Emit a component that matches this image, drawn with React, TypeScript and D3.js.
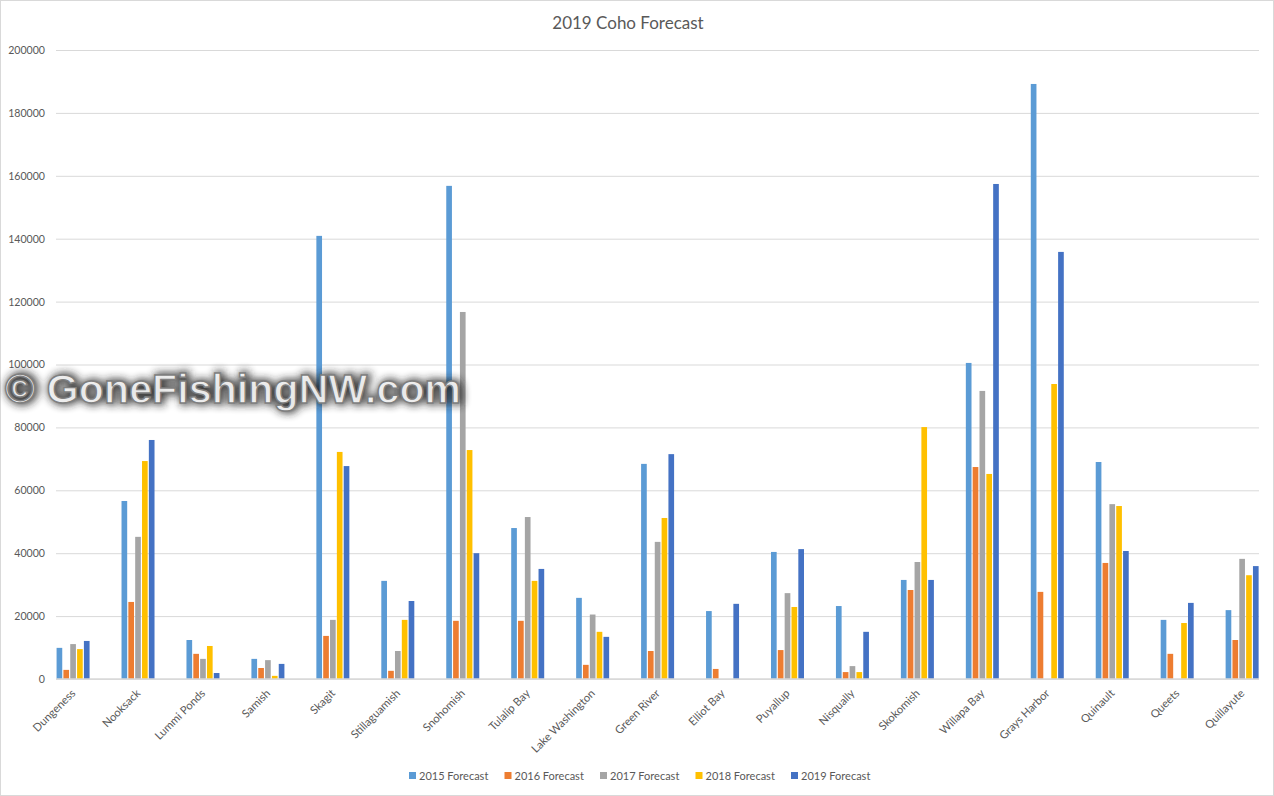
import * as d3 from "d3";
import { useEffect, useRef } from "react";

const rivers = [
  "Dungeness", "Nooksack", "Lummi Ponds", "Samish", "Skagit", "Stillaguamish", "Snohomish",
  "Tulalip Bay", "Lake Washington", "Green River", "Elliot Bay", "Puyallup", "Nisqually",
  "Skokomish", "Willapa Bay", "Grays Harbor", "Quinault", "Queets", "Quillayute",
];

const seriesNames = ["2015 Forecast", "2016 Forecast", "2017 Forecast", "2018 Forecast", "2019 Forecast"];
const seriesColors = ["#5b9bd5", "#ed7d31", "#a5a5a5", "#ffc000", "#4472c4"];

const forecast2015 = [9900, 56600, 12400, 6400, 140900, 31200, 156800, 48000, 25800, 68400, 21600, 40400, 23200, 31500, 100500, 189200, 69000, 18800, 21900];
const forecast2016 = [2900, 24500, 8000, 3500, 13700, 2600, 18500, 18500, 4500, 8900, 3200, 9200, 2200, 28300, 67400, 27700, 36900, 8000, 12400];
const forecast2017 = [11100, 45200, 6400, 6000, 18800, 8900, 116700, 51500, 20500, 43600, 0, 27300, 4100, 37200, 91600, 0, 55600, 0, 38200];
const forecast2018 = [9500, 69300, 10500, 1000, 72200, 18800, 72800, 31200, 15000, 51200, 0, 22900, 2200, 80100, 65200, 93800, 55000, 17800, 33000];
const forecast2019 = [12100, 76000, 1900, 4800, 67700, 24800, 40000, 35000, 13400, 71500, 23900, 41300, 15000, 31500, 157400, 135800, 40700, 24200, 35900];

const allSeries = [forecast2015, forecast2016, forecast2017, forecast2018, forecast2019];
const yTicks = d3.range(0, 200001, 20000);

const font = "Lato, 'Open Sans', sans-serif";
const textColor = "#595959";

const App = () => {
  const svgRef = useRef<SVGSVGElement | null>(null);

  useEffect(() => {
    if (!svgRef.current) return;
    const svg = d3.select(svgRef.current);
    svg.selectAll("*").remove();

    const width = 1274;
    const height = 796;
    const plotLeft = 56;
    const plotRight = 1259;
    const plotTop = 50;
    const plotBottom = 679;

    // the first and last bands hang over the plot edges in the original
    const x0 = d3.scaleBand().domain(rivers).range([40.6, 1274.6]);
    const x1 = d3.scaleBand().domain(seriesNames).range([0, 33]).paddingInner(0.17);
    const y = d3.scaleLinear().domain([0, 200000]).range([plotBottom, plotTop]);

    svg.append("rect")
      .attr("x", 0.5).attr("y", 0.5)
      .attr("width", width - 1).attr("height", height - 1)
      .attr("fill", "#fff").attr("stroke", "#d9d9d9");

    svg.append("text")
      .attr("x", 628).attr("y", 29)
      .attr("text-anchor", "middle")
      .attr("font-family", font).attr("font-size", 17)
      .attr("fill", textColor)
      .text("2019 Coho Forecast");

    // Y-axis and gridlines
    const yAxis = svg.append("g")
      .attr("transform", `translate(${plotLeft}, 0)`)
      .call(d3.axisLeft(y).tickValues(yTicks).tickFormat(d3.format("d")).tickSize(-(plotRight - plotLeft)).tickPadding(11));
    yAxis.select(".domain").remove();
    yAxis.selectAll("line").attr("stroke", "#d9d9d9");
    yAxis.selectAll("text")
      .attr("font-family", font).attr("font-size", 10.6)
      .attr("fill", textColor);

    // Bars
    const groups = svg.append("g")
      .selectAll("g")
      .data(rivers)
      .join("g")
      .attr("transform", (d) => `translate(${x0(d)! + (x0.bandwidth() - 33) / 2}, 0)`);

    groups.selectAll("rect")
      .data((_, i) => allSeries.map((s, j) => ({ name: seriesNames[j], color: seriesColors[j], value: s[i] })))
      .join("rect")
      .attr("x", (d) => x1(d.name)!)
      .attr("y", (d) => y(d.value))
      .attr("width", x1.bandwidth())
      .attr("height", (d) => y(0) - y(d.value))
      .attr("fill", (d) => d.color);

    // X-axis
    const xAxis = svg.append("g")
      .attr("transform", `translate(0, ${plotBottom})`)
      .call(d3.axisBottom(x0).tickSize(0).tickPadding(0));
    xAxis.select(".domain").remove();
    xAxis.append("line")
      .attr("x1", plotLeft).attr("x2", plotRight)
      .attr("stroke", "#d9d9d9").attr("stroke-width", 1.5);
    xAxis.selectAll<SVGTextElement, string>(".tick text")
      .attr("font-family", font).attr("font-size", 11.2)
      .attr("fill", textColor)
      .attr("text-anchor", "end")
      .attr("dy", 0)
      .attr("transform", "translate(3, 15) rotate(-45)");

    // Legend
    const legendX = d3.scalePoint().domain(seriesNames).range([409, 791]);
    const legend = svg.append("g")
      .selectAll("g")
      .data(seriesNames)
      .join("g")
      .attr("transform", (d) => `translate(${legendX(d)}, 772)`);
    legend.append("rect")
      .attr("width", 7).attr("height", 7)
      .attr("fill", (_, i) => seriesColors[i]);
    legend.append("text")
      .attr("x", 10).attr("y", 7.5)
      .attr("font-family", font).attr("font-size", 11)
      .attr("fill", textColor)
      .text((d) => d);

    // Watermark
    const defs = svg.append("defs");
    const blur = defs.append("filter")
      .attr("id", "mark-shadow")
      .attr("x", "-5%").attr("y", "-40%")
      .attr("width", "110%").attr("height", "180%");
    blur.append("feGaussianBlur").attr("stdDeviation", 4);

    const markAttrs = (sel: d3.Selection<SVGTextElement, unknown, null, undefined>) =>
      sel.attr("y", 403)
        .attr("font-family", "'Liberation Sans', Arial, sans-serif")
        .attr("font-weight", "bold").attr("font-size", 41)
        .attr("textLength", 456)
        .text("© GoneFishingNW.com");

    svg.append("text").call(markAttrs)
      .attr("x", 7)
      .attr("fill", "#222").attr("stroke", "#222").attr("stroke-width", 4)
      .attr("opacity", 0.9)
      .attr("filter", "url(#mark-shadow)");
    svg.append("text").call(markAttrs)
      .attr("x", 5)
      .attr("fill", "#fff").attr("fill-opacity", 0.88)
      .attr("stroke", "#7f7f7f").attr("stroke-width", 1.4);
  }, []);

  return <svg ref={svgRef} width={1274} height={796} style={{ position: "absolute", left: 0, top: 0 }}></svg>;
};

export default App;
